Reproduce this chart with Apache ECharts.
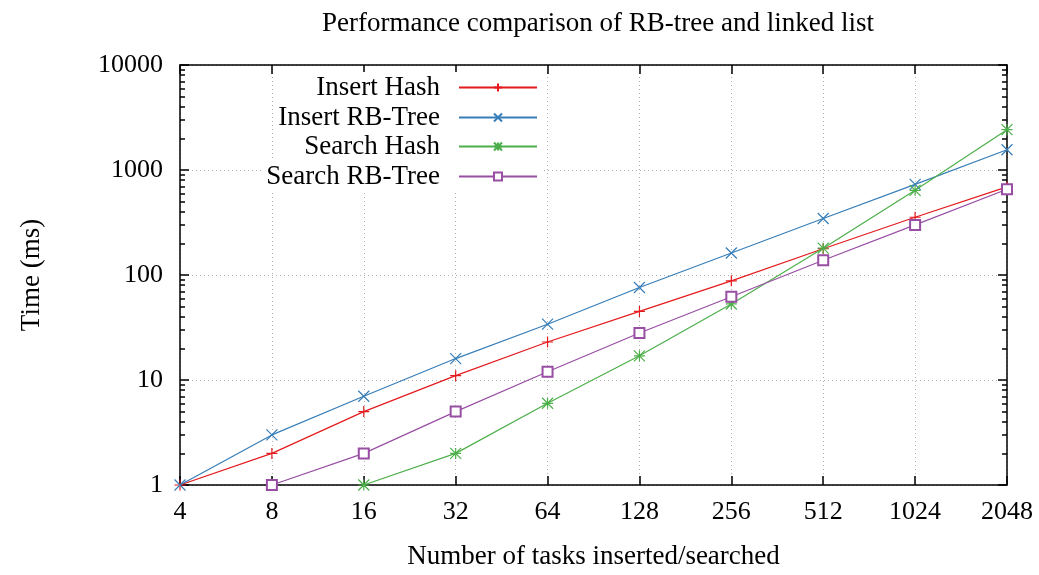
<!DOCTYPE html>
<html>
<head>
<meta charset="utf-8">
<script src="https://cdn.jsdelivr.net/npm/echarts@6/dist/echarts.min.js"></script>
<style>
html,body{margin:0;padding:0;background:#fff;}
#main{width:1039px;height:575px;}
</style>
</head>
<body>
<div id="main"></div>
<script>
const categories = ['4','8','16','32','64','128','256','512','1024','2048'];
const insertHash = [1, 2, 5, 11, 23, 45, 88, 178, 355, 690];
const insertRBTree = [1, 3, 7, 16, 34, 76, 162, 345, 730, 1560];
const searchHash = [null, null, 1, 2, 6, 17, 53, 180, 640, 2420];
const searchRBTree = [null, 1, 2, 5, 12, 28, 62, 138, 300, 655];
const seriesNames = ['Insert Hash', 'Insert RB-Tree', 'Search Hash', 'Search RB-Tree'];
const colors = ['#e41a1c', '#377eb8', '#4daf4a', '#984ea3'];

const FONT = 'Liberation Serif';
const FS = 26;
const TFS = 27;

const minorTicks = [];
for (let d = 1; d < 10000; d *= 10) {
  for (let k = 2; k <= 9; k++) minorTicks.push(d * k);
}

const plusSym = 'path://M5,0L5,10M0,5L10,5';
const crossSym = 'path://M0,0L10,10M10,0L0,10';
const starSym = 'path://M5,0L5,10M0,5L10,5M0,0L10,10M10,0L0,10';
const symbols = [plusSym, crossSym, starSym, 'emptyRect'];
const dataSets = [insertHash, insertRBTree, searchHash, searchRBTree];

const chart = echarts.init(document.getElementById('main'), null, {renderer: 'canvas'});

const series = seriesNames.map((name, i) => ({
  name: name,
  type: 'line',
  data: dataSets[i],
  xAxisIndex: 0,
  yAxisIndex: 0,
  symbol: symbols[i],
  symbolSize: i === 3 ? 10 : 11,
  showAllSymbol: true,
  connectNulls: false,
  color: colors[i],
  lineStyle: {color: colors[i], width: 1.2},
  itemStyle: {color: colors[i], borderColor: colors[i], borderWidth: i === 3 ? 1 : 1.2},
  emphasis: {disabled: true},
  animation: false,
  z: 5
}));

const legendRows = [87, 117, 146, 176];
const legends = seriesNames.map((name, i) => ({
  data: [name],
  right: 497,
  top: legendRows[i] - 15,
  align: 'right',
  orient: 'vertical',
  itemWidth: 78,
  itemHeight: 10,
  itemGap: 0,
  padding: [2, 4, 2, 4],
  backgroundColor: '#fff',
  selectedMode: false,
  textStyle: {fontFamily: FONT, fontSize: TFS, color: '#000', padding: [0, 14, 0, 0]}
}));

const gridLineStyle = {color: '#b0b0b0', type: [1, 3], width: 1};

const option = {
  backgroundColor: '#fff',
  animation: false,
  title: {
    text: 'Performance comparison of RB-tree and linked list',
    left: 593,
    textAlign: 'center',
    top: 5,
    textStyle: {fontFamily: FONT, fontSize: TFS, fontWeight: 'normal', color: '#000'}
  },
  legend: legends,
  grid: {left: 180, right: 32, top: 65, bottom: 88, containLabel: false, show: false},
  xAxis: [
    {
      type: 'category',
      data: categories,
      boundaryGap: false,
      position: 'bottom',
      name: 'Number of tasks inserted/searched',
      nameLocation: 'middle',
      nameGap: 58,
      nameTextStyle: {fontFamily: FONT, fontSize: TFS, color: '#000'},
      axisLine: {show: true, onZero: false, lineStyle: {color: '#000', width: 1.5}},
      axisTick: {show: true, inside: true, length: 9, alignWithLabel: true, lineStyle: {color: '#000', width: 1.5}},
      axisLabel: {fontFamily: FONT, fontSize: FS, color: '#000', margin: 14},
      splitLine: {show: true, lineStyle: gridLineStyle}
    },
    {
      type: 'category',
      data: categories,
      boundaryGap: false,
      position: 'top',
      axisLine: {show: true, onZero: false, lineStyle: {color: '#000', width: 1.5}},
      axisTick: {show: true, inside: true, length: 9, lineStyle: {color: '#000', width: 1.5}},
      axisLabel: {show: false},
      splitLine: {show: false}
    }
  ],
  yAxis: [
    {
      type: 'log',
      logBase: 10,
      min: 1,
      max: 10000,
      position: 'left',
      name: 'Time (ms)',
      nameLocation: 'middle',
      nameGap: 135,
      nameRotate: 90,
      nameTextStyle: {fontFamily: FONT, fontSize: TFS, color: '#000'},
      axisLine: {show: true, onZero: false, lineStyle: {color: '#000', width: 1.5}},
      axisTick: {show: true, inside: true, length: 9, lineStyle: {color: '#000', width: 1.5}},
      axisLabel: {fontFamily: FONT, fontSize: FS, color: '#000', margin: 17, formatter: v => String(Math.round(v))},
      splitLine: {show: true, lineStyle: gridLineStyle},
      minorTick: {show: false}
    },
    {
      type: 'log',
      logBase: 10,
      min: 1,
      max: 10000,
      position: 'left',
      axisLine: {show: false},
      axisTick: {show: true, inside: true, length: 5, customValues: minorTicks, lineStyle: {color: '#000', width: 1.5}},
      axisLabel: {show: false},
      splitLine: {show: false}
    },
    {
      type: 'log',
      logBase: 10,
      min: 1,
      max: 10000,
      position: 'right',
      axisLine: {show: true, onZero: false, lineStyle: {color: '#000', width: 1.5}},
      axisTick: {show: true, inside: true, length: 9, lineStyle: {color: '#000', width: 1.5}},
      axisLabel: {show: false},
      splitLine: {show: false}
    },
    {
      type: 'log',
      logBase: 10,
      min: 1,
      max: 10000,
      position: 'right',
      axisLine: {show: false},
      axisTick: {show: true, inside: true, length: 5, customValues: minorTicks, lineStyle: {color: '#000', width: 1.5}},
      axisLabel: {show: false},
      splitLine: {show: false}
    }
  ],
  series: series
};

chart.setOption(option);
</script>
</body>
</html>
